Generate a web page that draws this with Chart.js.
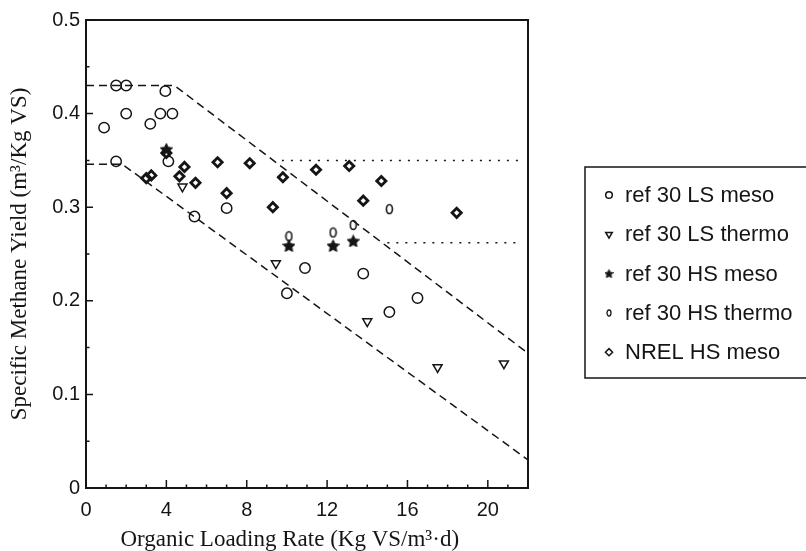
<!DOCTYPE html>
<html>
<head>
<meta charset="utf-8">
<script src="https://cdn.jsdelivr.net/npm/chart.js@4/dist/chart.umd.min.js"></script>
<style>
  html, body { margin: 0; padding: 0; background: #fff; }
</style>
</head>
<body>
<canvas id="myChart" width="806" height="551"></canvas>
<script>
// DATA

// ref 30 LS meso
var lsMesoX = [0.9, 1.5, 2.0, 2.0, 1.5, 3.2, 3.7, 4.3, 3.95, 4.1, 5.4, 7.0, 10.0, 10.9, 13.8, 15.1, 16.5];
var lsMesoY = [0.385, 0.43, 0.43, 0.40, 0.349, 0.389, 0.40, 0.40, 0.424, 0.349, 0.29, 0.299, 0.208, 0.235, 0.229, 0.188, 0.203];

// ref 30 LS thermo
var lsThermoX = [4.8, 9.45, 14.0, 17.5, 20.8];
var lsThermoY = [0.322, 0.240, 0.178, 0.129, 0.133];

// ref 30 HS meso
var hsMesoX = [4.0, 10.1, 12.3, 13.3];
var hsMesoY = [0.362, 0.259, 0.259, 0.264];

// ref 30 HS thermo
var hsThermoX = [10.1, 12.3, 13.3, 15.1];
var hsThermoY = [0.269, 0.273, 0.281, 0.298];

// NREL HS meso
var nrelX = [3.0, 3.25, 4.0, 4.65, 4.9, 5.45, 6.55, 7.0, 8.15, 9.3, 9.8, 11.45, 13.1, 13.8, 14.7, 18.45];
var nrelY = [0.331, 0.334, 0.358, 0.333, 0.343, 0.326, 0.348, 0.315, 0.347, 0.300, 0.332, 0.340, 0.344, 0.307, 0.328, 0.294];

// dashed envelope lines
var upperX = [0, 4.4, 22];
var upperY = [0.43, 0.43, 0.144];
var lowerX = [0, 1.8, 22];
var lowerY = [0.346, 0.346, 0.03];

// dotted levels
var dotHighX = [9.75, 21.6];
var dotHighY = [0.35, 0.35];
var dotLowX = [15.0, 21.5];
var dotLowY = [0.262, 0.262];

// axis ticks
var xTickVals = [0, 4, 8, 12, 16, 20];
var yTickVals = [0, 0.1, 0.2, 0.3, 0.4, 0.5];

var ink = '#151515';

function toPoints(xs, ys) {
  var pts = [];
  for (var i = 0; i < xs.length; i++) pts.push({x: xs[i], y: ys[i]});
  return pts;
}

// filled five point star as an image
function makeStar(size) {
  var c = document.createElement('canvas');
  c.width = size; c.height = size;
  var g = c.getContext('2d');
  var cx = size / 2, cy = size / 2 + size * 0.05;
  var ro = size / 2, ri = ro * 0.5;
  g.beginPath();
  for (var i = 0; i < 10; i++) {
    var r = i % 2 == 0 ? ro : ri;
    var a = -Math.PI / 2 + i * Math.PI / 5;
    g.lineTo(cx + r * Math.cos(a), cy + r * Math.sin(a));
  }
  g.closePath();
  g.fillStyle = ink;
  g.fill();
  g.lineWidth = 0.8;
  g.strokeStyle = ink;
  g.stroke();
  return c;
}

// small upright open oval
function makeOval(w, h, lw) {
  var c = document.createElement('canvas');
  c.width = w + 2 * lw; c.height = h + 2 * lw;
  var g = c.getContext('2d');
  g.beginPath();
  g.ellipse(c.width / 2, c.height / 2, w / 2, h / 2, 0, 0, Math.PI * 2);
  g.lineWidth = lw;
  g.strokeStyle = ink;
  g.stroke();
  return c;
}

var starBig = makeStar(13);
var starSmall = makeStar(9);
var ovalBig = makeOval(6, 9, 1.6);
var ovalSmall = makeOval(4, 6, 1.3);

function guide(xs, ys, dash) {
  return {
    data: toPoints(xs, ys),
    showLine: true,
    borderColor: ink,
    borderWidth: 1.5,
    borderDash: dash,
    pointRadius: 0,
    fill: false,
    isGuide: true
  };
}

var datasets = [
  {label: 'ref 30 LS meso', data: toPoints(lsMesoX, lsMesoY), pointStyle: 'circle', pointRadius: 5.2, borderWidth: 1.5,
    borderColor: ink, backgroundColor: 'rgba(0,0,0,0)', legendMark: {pointStyle: 'circle', radius: 3.3, borderWidth: 1.4}},
  {label: 'ref 30 LS thermo', data: toPoints(lsThermoX, lsThermoY), pointStyle: 'triangle', rotation: 180, pointRadius: 5.2, borderWidth: 1.5,
    borderColor: ink, backgroundColor: 'rgba(0,0,0,0)', legendMark: {pointStyle: 'triangle', rotation: 180, radius: 3.8, borderWidth: 1.4}},
  {label: 'ref 30 HS meso', data: toPoints(hsMesoX, hsMesoY), pointStyle: starBig, pointRadius: 6,
    borderColor: ink, backgroundColor: ink, legendMark: {pointStyle: starSmall, radius: 4}},
  {label: 'ref 30 HS thermo', data: toPoints(hsThermoX, hsThermoY), pointStyle: ovalBig, pointRadius: 5,
    borderColor: ink, backgroundColor: ink, legendMark: {pointStyle: ovalSmall, radius: 4}},
  {label: 'NREL HS meso', data: toPoints(nrelX, nrelY), pointStyle: 'rectRot', pointRadius: 4.6, borderWidth: 2.8,
    borderColor: ink, backgroundColor: 'rgba(0,0,0,0)', legendMark: {pointStyle: 'rectRot', radius: 3.6, borderWidth: 2.2}},
  guide(upperX, upperY, [8, 5]),
  guide(lowerX, lowerY, [8, 5]),
  guide(dotHighX, dotHighY, [2, 7]),
  guide(dotLowX, dotLowY, [2, 7])
];

// frame, inward ticks and the boxed legend
var framePlugin = {
  id: 'frame',
  afterDraw: function (chart) {
    var ctx = chart.ctx;
    var a = chart.chartArea;
    var xs = chart.scales.x, ys = chart.scales.y;
    ctx.save();
    ctx.strokeStyle = ink;
    ctx.lineWidth = 2;
    ctx.strokeRect(a.left, a.top, a.right - a.left, a.bottom - a.top);

    ctx.lineWidth = 1.5;
    ctx.beginPath();
    for (var i = 0; i <= 10; i++) {
      var py = ys.getPixelForValue(i * 0.05);
      var len = i % 2 == 0 ? 7 : 3.5;
      ctx.moveTo(a.left, py);
      ctx.lineTo(a.left + len, py);
    }
    for (var j = 0; j <= 22; j++) {
      var px = xs.getPixelForValue(j);
      var l2 = j % 4 == 0 ? 8 : 3.5;
      ctx.moveTo(px, a.bottom);
      ctx.lineTo(px, a.bottom - l2);
    }
    ctx.stroke();

    // legend box
    ctx.lineWidth = 1.5;
    ctx.strokeRect(585, 167, 240, 211);
    ctx.font = '22px "Liberation Sans", Arial, sans-serif';
    ctx.fillStyle = ink;
    ctx.textBaseline = 'middle';
    ctx.textAlign = 'left';
    var row = 0;
    chart.data.datasets.forEach(function (ds) {
      if (ds.isGuide) return;
      var yy = 195 + row * 39.3;
      var m = ds.legendMark;
      ctx.strokeStyle = ink;
      ctx.fillStyle = 'rgba(0,0,0,0)';
      Chart.helpers.drawPoint(ctx, {pointStyle: m.pointStyle, radius: m.radius, rotation: m.rotation || 0, borderWidth: m.borderWidth || 1}, 609, yy);
      ctx.fillStyle = ink;
      ctx.fillText(ds.label, 625, yy + 1);
      row++;
    });
    ctx.restore();
  }
};

var ctx = document.getElementById('myChart').getContext('2d');
var chart = new Chart(ctx, {
  type: 'scatter',
  data: {datasets: datasets},
  options: {
    responsive: false,
    animation: false,
    layout: {padding: {top: 20, right: 278, left: 0, bottom: 0}},
    plugins: {legend: {display: false}, tooltip: {enabled: false}},
    scales: {
      x: {
        type: 'linear', min: 0, max: 22,
        afterBuildTicks: function (s) { s.ticks = xTickVals.map(function (v) { return {value: v}; }); },
        afterFit: function (s) { s.height = 63; },
        grid: {display: false, drawTicks: false},
        border: {display: false},
        ticks: {color: ink, padding: 10, maxRotation: 0, font: {family: '"Liberation Sans", Arial, sans-serif', size: 20},
          callback: function (v) { return String(v); }},
        title: {display: true, text: 'Organic Loading Rate (Kg VS/m³·d)      ', color: ink,
          font: {family: '"Liberation Serif", "Times New Roman", serif', size: 23, lineHeight: 1},
          padding: {top: 0, bottom: 0}}
      },
      y: {
        type: 'linear', min: 0, max: 0.5,
        afterBuildTicks: function (s) { s.ticks = yTickVals.map(function (v) { return {value: v}; }); },
        afterFit: function (s) { s.width = 86; },
        grid: {display: false, drawTicks: false},
        border: {display: false},
        ticks: {color: ink, padding: 6, font: {family: '"Liberation Sans", Arial, sans-serif', size: 20},
          callback: function (v) { return v == 0 ? '0' : v.toFixed(1); }},
        title: {display: true, text: 'Specific Methane Yield (m³/Kg VS)', color: ink,
          font: {family: '"Liberation Serif", "Times New Roman", serif', size: 23, lineHeight: 1},
          padding: {top: 8, bottom: 0}}
      }
    }
  },
  plugins: [framePlugin]
});
</script>
</body>
</html>
